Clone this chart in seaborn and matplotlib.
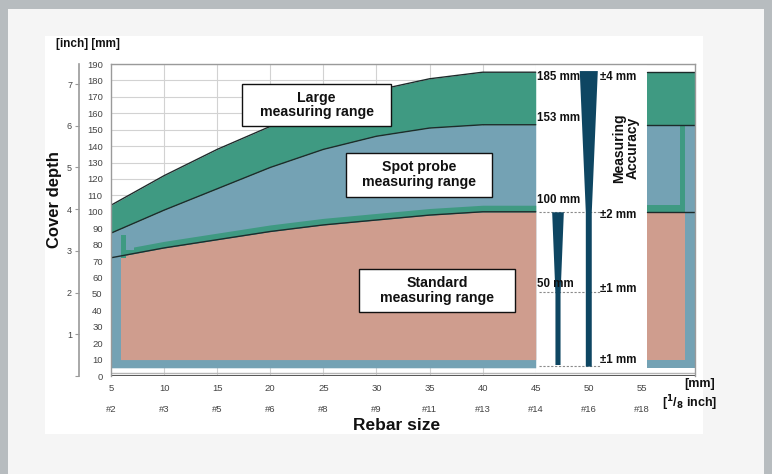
import numpy as np
import pandas as pd
import matplotlib
matplotlib.use("Agg")
import matplotlib.pyplot as plt
from matplotlib.patches import Rectangle
import seaborn as sns

# ---------------- data ----------------
rebar_mm = [5, 10, 15, 20, 25, 30, 35, 40, 45]
large_top = [104, 122, 138, 152, 164, 174, 181, 185, 185]
spot_top = [87, 101, 114, 127, 138, 146, 151, 153, 153]
standard_top = [72, 78, 83, 88, 92, 95, 98, 100, 100]

tick_mm = [5, 10, 15, 20, 25, 30, 35, 40, 45, 50, 55]
tick_bar = ["#2", "#3", "#5", "#6", "#8", "#9", "#11", "#13", "#14", "#16", "#18"]

yticks_mm = list(range(0, 200, 10))
inch_ticks = [0, 1, 2, 3, 4, 5, 6, 7]

depth_labels = ["185 mm", "153 mm", "100 mm", "50 mm"]
depth_label_y = [182, 157, 107, 56]
acc_labels = ["±4 mm", "±2 mm", "±1 mm", "±1 mm"]
acc_label_y = [182, 98, 53, 10]

# wedge profiles (depth, half width)
wedge1_depth = [100, 50, 7]
wedge1_half = [0.55, 0.24, 0.24]
wedge2_depth = [186, 100, 6]
wedge2_half = [0.85, 0.28, 0.28]
dash_depth = [100, 51, 6]

# ---------------- style ----------------
sns.set_theme(style="white")
plt.rcParams["font.family"] = ["Liberation Sans", "DejaVu Sans"]
plt.rcParams["mathtext.default"] = "bf"

GREEN = "#3f9a82"
BLUE = "#74a2b4"
PINK = "#cf9d8e"
NAVY = "#0e4662"
GRID = "#d2d2d2"

fig = plt.figure(figsize=(7.72, 4.74), dpi=100)
fig.patch.set_facecolor("#f5f5f5")
W, H = 772, 474

def fr(x0, y0, x1, y1):
    return [x0 / W, 1 - y1 / H, (x1 - x0) / W, (y1 - y0) / H]

# photo border strips and white card (background layer)
bg = fig.add_axes([0, 0, 1, 1], zorder=-10)
bg.set_xlim(0, W)
bg.set_ylim(H, 0)
bg.axis("off")
for (x0, y0, x1, y1) in [(0, 0, 8, 474), (0, 0, 772, 9), (764, 0, 772, 474)]:
    bg.add_patch(Rectangle((x0, y0), x1 - x0, y1 - y0, color="#b7bcbf", lw=0))
bg.add_patch(Rectangle((45, 36), 703 - 45, 434 - 36, color="white", lw=0))

ax = fig.add_axes(fr(111, 64, 695, 376), zorder=1)
ax.set_facecolor("white")
ax.set_xlim(5, 60)
ax.set_ylim(0, 190)

# grid
for y in yticks_mm[1:]:
    ax.axhline(y, color=GRID, lw=0.8, zorder=0.5)
for x in tick_mm[1:]:
    ax.axvline(x, color=GRID, lw=0.8, zorder=0.5)
ax.axvspan(45, 55.5, color="white", zorder=0.8, lw=0)

x = np.array(rebar_mm, dtype=float)
lg = np.array(large_top, dtype=float)
sp = np.array(spot_top, dtype=float)
st = np.array(standard_top, dtype=float)
xr = np.array([55.5, 60.0])
xr_in = np.array([55.5, 59.1])

# blue (spot probe) base
ax.fill_between(x, 5, sp, color=BLUE, lw=0, zorder=1)
ax.fill_between(xr, 5, sp[-1], color=BLUE, lw=0, zorder=1)
# green (large)
ax.fill_between(x, sp, lg, color=GREEN, lw=0, zorder=1)
ax.fill_between(xr, sp[-1], lg[-1], color=GREEN, lw=0, zorder=1)
# pink (standard)
ax.fill_between(x, 10, st, color=PINK, lw=0, zorder=1.2)
ax.fill_between(xr_in, 10, st[-1], color=PINK, lw=0, zorder=1.2)
# green strip above standard
ax.fill_between(x, st, st + 4, color=GREEN, lw=0, zorder=1.2)
ax.fill_between(xr_in, st[-1], st[-1] + 4, color=GREEN, lw=0, zorder=1.2)
# frame details
ax.add_patch(Rectangle((5, 5), 0.9, st[0] + 5 - 5, color=BLUE, lw=0, zorder=1.3))
ax.add_patch(Rectangle((5.9, st[0]), 0.5, 86 - st[0], color=GREEN, lw=0, zorder=1.3))
ax.add_patch(Rectangle((6.4, st[0] + 4.5), 0.8, 5, color=BLUE, lw=0, zorder=1.3))
ax.add_patch(Rectangle((58.6, st[-1] + 4), 0.5, sp[-1] - 1 - st[-1] - 4, color=GREEN, lw=0, zorder=1.3))

# boundary lines via seaborn
rows = []
for name, arr in [("large", lg), ("spot", sp), ("standard", st)]:
    for xi, yi in zip(x, arr):
        rows.append({"seg": name + "_main", "x": xi, "y": yi})
    for xi in xr:
        rows.append({"seg": name + "_right", "x": xi, "y": arr[-1]})
df = pd.DataFrame(rows)
sns.lineplot(data=df, x="x", y="y", units="seg", estimator=None, color="#1d2b2b",
             lw=1.0, ax=ax, zorder=2, legend=False)

# accuracy wedges
ax.fill_betweenx(wedge1_depth, 47.05 - np.array(wedge1_half), 47.05 + np.array(wedge1_half),
                 color=NAVY, lw=0, zorder=3)
ax.fill_betweenx(wedge2_depth, 49.95 - np.array(wedge2_half), 49.95 + np.array(wedge2_half),
                 color=NAVY, lw=0, zorder=3)
for d in dash_depth:
    ax.plot([45.3, 51.1], [d, d], color="#8a8a8a", lw=0.8, ls=(0, (2, 1.5)), zorder=2.5)

for lab, yy in zip(depth_labels, depth_label_y):
    ax.text(45.15, yy, lab, fontsize=8.3, fontweight="bold", va="center", ha="left",
            color="#111111", zorder=4)
for lab, yy in zip(acc_labels, acc_label_y):
    ax.text(51.05, yy, lab, fontsize=8.3, fontweight="bold", va="center", ha="left",
            color="#111111", zorder=4)
ax.text(53.5, 139, "Measuring\nAccuracy", rotation=90, fontsize=10, fontweight="bold",
        ha="center", va="center", linespacing=0.95, color="#111111", zorder=4)

# range label boxes
boxes = [((17.31, 152.4, 31.41, 177.9), "Large\nmeasuring range"),
         ((27.09, 109.3, 40.9, 136.0), "Spot probe\nmeasuring range"),
         ((28.4, 38.9, 43.06, 65.0), "Standard\nmeasuring range")]
for (x0, y0, x1, y1), lab in boxes:
    ax.add_patch(Rectangle((x0, y0), x1 - x0, y1 - y0, fc="white", ec="#111111", lw=1.0, zorder=4))
    ax.text((x0 + x1) / 2, (y0 + y1) / 2, lab, ha="center", va="center", fontsize=10.2,
            fontweight="bold", linespacing=1.05, color="#111111", zorder=5)

# axes decorations
for s in ["top", "right", "left"]:
    ax.spines[s].set_color("#9a9a9a")
    ax.spines[s].set_linewidth(1.0)
ax.spines["bottom"].set_visible(False)
ax.axhline(0, color="#555555", lw=1.4, zorder=2)
ax.axhline(1.6, color="#b5b5b5", lw=1.0, zorder=2)

ax.set_yticks(yticks_mm)
ax.set_yticklabels([str(v) for v in yticks_mm], fontsize=6.8, color="#444444")
ax.tick_params(axis="y", length=0, pad=6)
ax.set_xticks(tick_mm)
ax.set_xticklabels([f"{m}\n{b}" for m, b in zip(tick_mm, tick_bar)], fontsize=6.8,
                   color="#444444", linespacing=2.6)
ax.tick_params(axis="x", length=0, pad=6)
ax.set_xlabel("")
ax.set_ylabel("")

# inch axis
sec = ax.secondary_yaxis(-(111 - 79) / 584, functions=(lambda v: v / 25.4, lambda v: v * 25.4))
sec.set_yticks(inch_ticks)
sec.set_yticklabels(["" if v == 0 else str(v) for v in inch_ticks], fontsize=6.5, color="#444444")
sec.spines["left"].set_color("#9a9a9a")
sec.spines["left"].set_linewidth(1.2)
sec.tick_params(axis="y", length=3, width=0.8, color="#9a9a9a", pad=2)

fig.text(88 / W, 1 - 44 / H, "[inch] [mm]", fontsize=8.5, fontweight="bold", ha="center",
         va="center", color="#111111")
fig.text(55 / W, 1 - 200 / H, "Cover depth", fontsize=12, fontweight="bold", rotation=90,
         ha="center", va="center", color="#111111")
fig.text(397 / W, 1 - 426 / H, "Rebar size", fontsize=12.5, fontweight="bold", ha="center",
         va="center", color="#111111")
fig.text(700 / W, 1 - 384 / H, "[mm]", fontsize=9, fontweight="bold", ha="center",
         va="center", color="#111111")
fig.text(690 / W, 1 - 403 / H, r"[$^{1}$/$_{8}$ inch]", fontsize=9, fontweight="bold",
         ha="center", va="center", color="#111111")

fig.savefig("out.png", dpi=100, facecolor=fig.get_facecolor())
